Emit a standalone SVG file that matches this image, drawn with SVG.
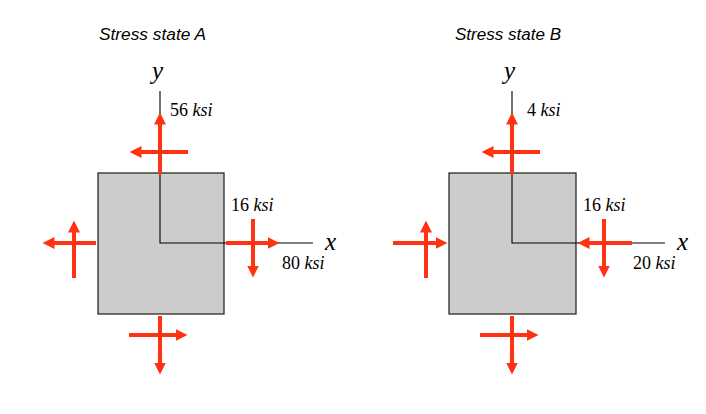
<svg xmlns="http://www.w3.org/2000/svg" width="706" height="414" viewBox="0 0 706 414">
<style>
.title{font-family:"Liberation Sans",Arial,sans-serif;font-style:italic;font-size:16px;fill:#000}
.lbl{font-family:"Liberation Serif","Times New Roman",serif;font-size:18px;fill:#000}
.ax{font-family:"Liberation Serif","Times New Roman",serif;font-style:italic;font-size:25px;fill:#000}
.it{font-style:italic}
.sq{fill:#cccccc;stroke:#1a1a1a;stroke-width:1.2}
.axis{stroke:#000000;stroke-width:1.1;fill:none}
.arr{stroke:#ff3314;stroke-width:4;fill:none;marker-end:url(#ah)}
</style>
<defs>
<marker id="ah" viewBox="0 0 12 12" markerWidth="12" markerHeight="12" markerUnits="userSpaceOnUse" refX="0.5" refY="6" orient="auto">
<path d="M0,0 L12,6 L0,12 z" fill="#ff3314"/>
</marker>
</defs>
<rect width="706" height="414" fill="#ffffff"/>

<g id="stateA">
<text class="title" x="99" y="40" textLength="107" lengthAdjust="spacingAndGlyphs">Stress state A</text>
<g id="elementA">
<rect class="sq" x="98" y="173" width="126" height="141"/>
</g>
<g id="axesA">
<polyline class="axis" points="160,91 160,243 313,243"/>
<text class="ax" x="152" y="79">y</text>
<text class="ax" x="325" y="250">x</text>
</g>
<g id="connectorsA">
<line class="arr" x1="160" y1="174" x2="160" y2="124"/>
<line class="arr" x1="188" y1="152" x2="141" y2="152"/>
<line class="arr" x1="226" y1="243" x2="268" y2="243"/>
<line class="arr" x1="253" y1="219" x2="253" y2="266"/>
<line class="arr" x1="96" y1="243" x2="54" y2="243"/>
<line class="arr" x1="74" y1="278" x2="74" y2="232"/>
<line class="arr" x1="160" y1="316" x2="160" y2="363"/>
<line class="arr" x1="129" y1="335" x2="176" y2="335"/>
</g>
<g id="labelsA">
<text class="lbl" x="170" y="116">56 <tspan class="it">ksi</tspan></text>
<text class="lbl" x="231" y="211">16 <tspan class="it">ksi</tspan></text>
<text class="lbl" x="282" y="269">80 <tspan class="it">ksi</tspan></text>
</g>
</g>

<g id="stateB">
<text class="title" x="455" y="40" textLength="106" lengthAdjust="spacingAndGlyphs">Stress state B</text>
<g id="elementB">
<rect class="sq" x="449" y="173" width="127" height="141"/>
</g>
<g id="axesB">
<polyline class="axis" points="512,91 512,243 665,243"/>
<text class="ax" x="504" y="79">y</text>
<text class="ax" x="677" y="250">x</text>
</g>
<g id="connectorsB">
<line class="arr" x1="512" y1="174" x2="512" y2="124"/>
<line class="arr" x1="540" y1="152" x2="493" y2="152"/>
<line class="arr" x1="632" y1="243" x2="589" y2="243"/>
<line class="arr" x1="604" y1="219" x2="604" y2="266"/>
<line class="arr" x1="393" y1="243" x2="436" y2="243"/>
<line class="arr" x1="426" y1="278" x2="426" y2="232"/>
<line class="arr" x1="512" y1="316" x2="512" y2="363"/>
<line class="arr" x1="480" y1="335" x2="527" y2="335"/>
</g>
<g id="labelsB">
<text class="lbl" x="527" y="116">4 <tspan class="it">ksi</tspan></text>
<text class="lbl" x="583" y="211">16 <tspan class="it">ksi</tspan></text>
<text class="lbl" x="633" y="269">20 <tspan class="it">ksi</tspan></text>
</g>
</g>
</svg>
